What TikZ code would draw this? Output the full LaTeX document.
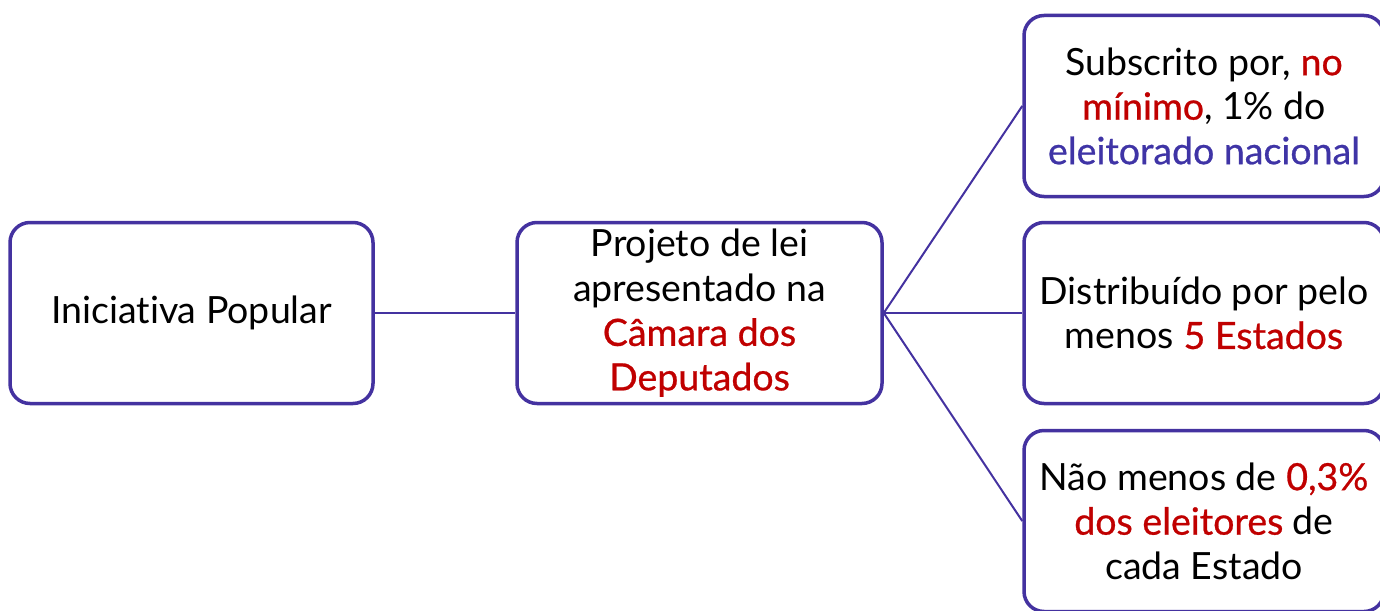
\documentclass[tikz,border=0pt]{standalone}
\usepackage{fontspec}
\setmainfont{Lato}[Ligatures=NoCommon]
\newfontface\medfont{Lato}[Ligatures=NoCommon,FakeBold=0.7]
\definecolor{frame}{HTML}{4432A0}
\definecolor{hired}{HTML}{C00000}
\definecolor{hiblue}{HTML}{3F34A6}
\tikzset{
  box/.style={draw=frame, line width=3.5pt, rounded corners=20pt, fill=white,
    minimum width=#1, minimum height=181pt, align=center, inner sep=0pt,
    font=\fontsize{37.5}{44.5}\selectfont, text=black},
  link/.style={draw=frame, line width=2pt}
}
\newcommand{\rd}[1]{\textcolor{hired}{\medfont #1}}
\newcommand{\bl}[1]{\textcolor{hiblue}{\medfont #1}}
\begin{document}
\begin{tikzpicture}[x=1pt,y=-1pt]
\useasboundingbox (0,0) rectangle (1380,610);
\clip (0,0) rectangle (1380,610);
\node[box=363pt] (b1) at (191.5,313) {Iniciativa Popular};
\node[box=365pt] (b2) at (699.5,313) {Projeto de lei\\apresentado na\\\rd{Câmara dos}\\\rd{Deputados}};
\node[box=360pt] (b3) at (1204,106) {Subscrito por, \rd{no}\\\rd{mínimo}, 1\% do\\\bl{eleitorado nacional}};
\node[box=360pt] (b4) at (1204,313) {Distribuído por pelo\\menos \rd{5 Estados}};
\node[box=360pt] (b5) at (1204,521) {Não menos de \rd{0,3\%}\\\rd{dos eleitores} de\\cada Estado};
\draw[link] (b1.east) -- (b2.west);
\draw[link] (b2.east) -- (b3.west);
\draw[link] (b2.east) -- (b4.west);
\draw[link] (b2.east) -- (b5.west);
\end{tikzpicture}
\end{document}
